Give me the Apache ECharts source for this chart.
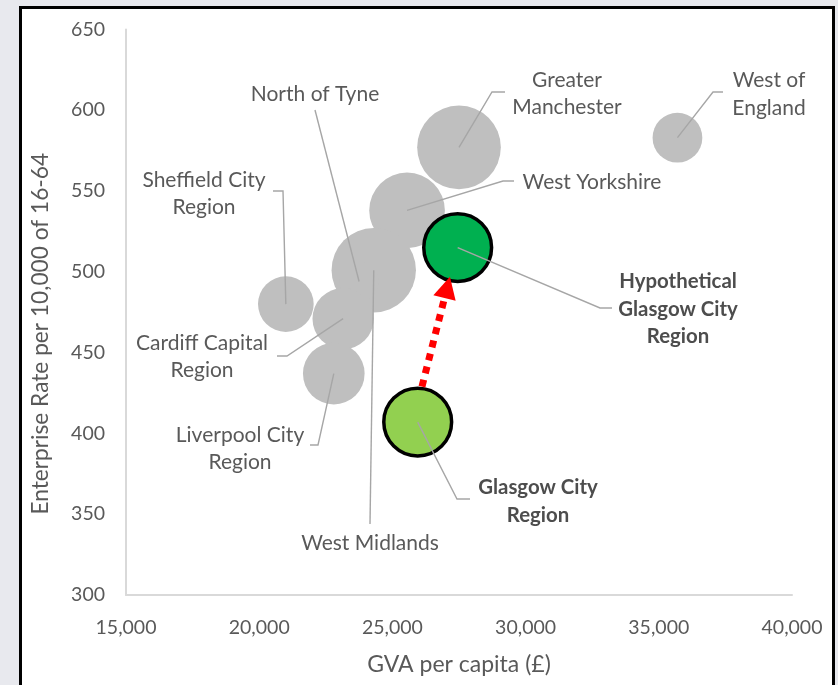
<!DOCTYPE html>
<html>
<head>
<meta charset="utf-8">
<script src="https://cdn.jsdelivr.net/npm/echarts@6/dist/echarts.min.js"></script>
<style>
  html, body { margin: 0; padding: 0; width: 838px; height: 685px; background: #e8e9ee; overflow: hidden; }
  #frame { position: absolute; left: 19px; top: 6px; width: 810px; height: 700px; border: 3px solid #000; background: #fff; }
  #chart { position: absolute; left: 0; top: 0; width: 838px; height: 685px; }
</style>
</head>
<body>
<div id="frame"></div>
<div id="chart"></div>
<script>
// ---- data ----
const regions = ['West of England', 'Greater Manchester', 'West Yorkshire', 'West Midlands', 'North of Tyne',
  'Sheffield City Region', 'Cardiff Capital Region', 'Liverpool City Region', 'Glasgow City Region', 'Hypothetical Glasgow City Region'];
const labelTexts = ['West of\nEngland', 'Greater\nManchester', 'West Yorkshire', 'West Midlands', 'North of Tyne',
  'Sheffield City\nRegion', 'Cardiff Capital\nRegion', 'Liverpool City\nRegion', 'Glasgow City\nRegion', 'Hypothetical\nGlasgow City\nRegion'];
const gvaPerCapita = [35700, 27500, 25550, 24300, 23750, 21000, 23150, 22800, 25950, 27450];
const enterpriseRate = [583, 577, 538, 501, 494, 480, 471, 437, 407, 515];
const populationM = [0.99, 2.8, 2.29, 2.85, 0.64, 1.24, 1.5, 1.52, 1.84, 1.84];
const arrowFrom = [26110, 429];
const arrowTo = [27160, 497];
const xTicks = [15000, 20000, 25000, 30000, 35000, 40000];
const yTicks = [300, 350, 400, 450, 500, 550, 600, 650];

// ---- styles / layout ----
const FONT = 'Lato';
const TXT = '#595959';
const fills = ['#bfbfbf', '#bfbfbf', '#bfbfbf', '#bfbfbf', '#bfbfbf', '#bfbfbf', '#bfbfbf', '#bfbfbf', '#92d050', '#00b050'];
const bold = [false, false, false, false, false, false, false, false, true, true];
// label text centre and leader-line path (pixels), leader ends at bubble centre
const labelLayout = [
  { t: [769, 94], p: [[723, 92], [713, 92]] },
  { t: [567, 93.5], p: [[505, 92], [492, 92]] },
  { t: [592, 182], p: [[514, 181], [503, 181]] },
  { t: [370, 543], p: [[370, 524]] },
  { t: [315, 94], p: [[315, 110]] },
  { t: [204, 193.5], p: [[273, 191], [283, 191]] },
  { t: [202, 356.5], p: [[277, 356], [287, 356]] },
  { t: [240, 448.5], p: [[310, 445], [318, 445]] },
  { t: [538, 501.5], p: [[470, 499], [457, 499]] },
  { t: [678, 309], p: [[612, 308], [600, 308]] }
];

const chart = echarts.init(document.getElementById('chart'), null, { renderer: 'canvas' });
const fmt = v => v.toLocaleString('en-GB');

const bubbleData = regions.map((r, i) => ({
  name: r,
  value: [gvaPerCapita[i], enterpriseRate[i], populationM[i]],
  itemStyle: i >= 8 ? { color: fills[i], opacity: 1, borderColor: '#000', borderWidth: 3.5 } : { color: fills[i], opacity: 1 }
}));

chart.setOption({
  animation: false,
  grid: { left: 126, right: 46, top: 29.4, bottom: 90 },
  xAxis: {
    type: 'value', min: xTicks[0], max: xTicks[xTicks.length - 1], interval: xTicks[1] - xTicks[0],
    name: 'GVA per capita (£)', nameLocation: 'middle', nameGap: 58.5,
    nameTextStyle: { fontFamily: FONT, fontSize: 23, color: TXT },
    axisLine: { show: true, lineStyle: { color: '#d9d9d9', width: 2 } },
    axisTick: { show: false }, splitLine: { show: false },
    axisLabel: { margin: 23, fontFamily: FONT, fontSize: 19.5, color: TXT, formatter: v => fmt(v) }
  },
  yAxis: {
    type: 'value', min: yTicks[0], max: yTicks[yTicks.length - 1], interval: yTicks[1] - yTicks[0],
    name: 'Enterprise Rate per 10,000 of 16-64', nameLocation: 'middle', nameGap: 74,
    nameTextStyle: { fontFamily: FONT, fontSize: 22.7, color: TXT, padding: [0, 43, 0, 0] },
    axisLine: { show: true, lineStyle: { color: '#d9d9d9', width: 2 } },
    axisTick: { show: false }, splitLine: { show: false },
    axisLabel: { margin: 21, fontFamily: FONT, fontSize: 19.5, color: TXT }
  },
  series: [
    {
      type: 'scatter', z: 2,
      data: bubbleData,
      symbolSize: v => 50 * Math.sqrt(v[2]),
      emphasis: { disabled: true }
    },
    {
      type: 'custom', z: 3, clip: false, silent: true,
      data: regions.map((r, i) => [gvaPerCapita[i], enterpriseRate[i], i]),
      encode: { x: 0, y: 1 },
      renderItem: (params, api) => {
        const i = api.value(2);
        const c = api.coord([api.value(0), api.value(1)]);
        const L = labelLayout[i];
        const pts = L.p.concat([c]);
        return {
          type: 'group',
          children: [
            { type: 'polyline', shape: { points: pts }, style: { stroke: '#a6a6a6', lineWidth: 1.4, fill: null } },
            { type: 'text', x: L.t[0], y: L.t[1], style: {
              text: labelTexts[i], fontFamily: FONT, fontSize: bold[i] ? 20.4 : 21, fontWeight: bold[i] ? 'bold' : 'normal',
              fill: bold[i] ? '#4d4d4d' : TXT, align: 'center', verticalAlign: 'middle', lineHeight: 27.5 } }
          ]
        };
      }
    },
    {
      type: 'custom', z: 4, clip: false, silent: true,
      data: [[arrowFrom[0], arrowFrom[1], arrowTo[0], arrowTo[1]]],
      encode: { x: [0, 2], y: [1, 3] },
      renderItem: (params, api) => {
        const a = api.coord([api.value(0), api.value(1)]);
        const b = api.coord([api.value(2), api.value(3)]);
        const dx = b[0] - a[0], dy = b[1] - a[1];
        const len = Math.sqrt(dx * dx + dy * dy);
        const ux = dx / len, uy = dy / len;
        const head = 22, half = 11.5;
        const base = [b[0] - ux * head, b[1] - uy * head];
        const lineEnd = [b[0] - ux * (head - 2), b[1] - uy * (head - 2)];
        return {
          type: 'group',
          children: [
            { type: 'line', shape: { x1: a[0], y1: a[1], x2: lineEnd[0], y2: lineEnd[1] },
              style: { stroke: '#ff0000', lineWidth: 7, lineDash: [7, 6.5], lineCap: 'butt' } },
            { type: 'polygon', shape: { points: [b, [base[0] - uy * half, base[1] + ux * half], [base[0] + uy * half, base[1] - ux * half]] },
              style: { fill: '#ff0000' } }
          ]
        };
      }
    }
  ]
});
</script>
</body>
</html>
